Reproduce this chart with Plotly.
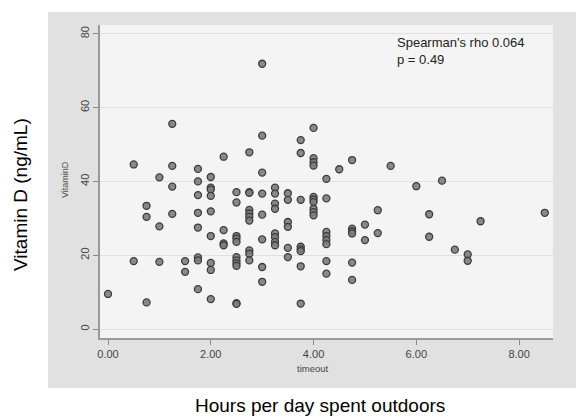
import plotly.graph_objects as go

# Hours per day outdoors (x) and vitamin D (y), read column by column
hours = (
    [0.0]
    + [0.5] * 2
    + [0.75] * 3
    + [1.0] * 3
    + [1.25] * 4
    + [1.5] * 2
    + [1.75] * 8
    + [2.0] * 9
    + [2.25] * 4
    + [2.5] * 11
    + [2.75] * 10
    + [3.0] * 8
    + [3.25] * 8
    + [3.5] * 6
    + [3.75] * 8
    + [4.0] * 10
    + [4.25] * 8
    + [4.5] * 1
    + [4.75] * 6
    + [5.0] * 2
    + [5.25] * 2
    + [5.5] * 1
    + [6.0] * 1
    + [6.25] * 2
    + [6.5] * 1
    + [6.75] * 1
    + [7.0] * 2
    + [7.25] * 1
    + [8.5] * 1
)
vitamin_d = [
    9.5,
    44.6, 18.4,
    33.4, 30.4, 7.2,
    41.1, 27.8, 18.2,
    55.6, 44.2, 38.6, 31.2,
    18.4, 15.5,
    43.4, 40.0, 36.3, 31.5, 27.5, 19.4, 18.6, 10.8,
    41.2, 38.3, 37.8, 36.1, 31.9, 25.2, 17.9, 16.0, 8.1,
    46.7, 26.8, 23.2, 22.7,
    37.1, 34.3, 25.2, 24.5, 23.6, 19.5, 18.6, 17.8, 17.1, 7.0, 6.8,
    47.9, 37.1, 36.9, 32.3, 31.3, 30.4, 29.4, 21.3, 20.4, 18.6,
    71.9, 52.4, 42.4, 36.7, 31.0, 24.3, 16.8, 12.8,
    38.3, 36.7, 34.0, 32.6, 25.9, 24.9, 23.6, 22.7,
    36.8, 35.0, 29.0, 27.7, 22.0, 19.5,
    51.2, 47.7, 35.0, 22.3, 21.6, 21.1, 17.0, 6.9,
    54.5, 46.3, 45.2, 44.3, 35.8, 35.1, 34.4, 32.6, 31.7, 30.8,
    40.7, 35.4, 26.3, 25.2, 24.1, 23.0, 18.4, 15.0,
    43.3,
    45.8, 27.2, 26.5, 25.9, 18.0, 13.3,
    28.3, 24.1,
    32.2, 26.0,
    44.2,
    38.7,
    31.1, 25.0,
    40.2,
    21.5,
    20.2, 18.5,
    29.2,
    31.5,
]

x_ticks = [0, 2, 4, 6, 8]
x_tick_labels = ["0.00", "2.00", "4.00", "6.00", "8.00"]
y_ticks = [0, 20, 40, 60, 80]
y_tick_labels = ["0", "20", "40", "60", "80"]

W, H = 576, 420
fig = go.Figure()
fig.add_trace(go.Scatter(
    x=hours, y=vitamin_d, mode="markers",
    marker=dict(size=7, color="rgba(125,125,125,0.9)",
                line=dict(color="#3c3c3c", width=1.3)),
    showlegend=False, hoverinfo="x+y",
))

# gray graph-region panel and light plot region
fig.add_shape(type="rect", xref="paper", yref="paper",
              x0=48 / W, x1=1.0, y0=1 - 388 / H, y1=1 - 12 / H,
              fillcolor="#e1e1e1", line=dict(width=0), layer="below")
fig.add_shape(type="rect", xref="paper", yref="paper",
              x0=100 / W, x1=553 / W, y0=1 - 338 / H, y1=1 - 25 / H,
              fillcolor="#f4f4f4", line=dict(width=0), layer="below")

fig.update_layout(
    width=W, height=H,
    margin=dict(l=0, r=0, t=0, b=0, autoexpand=False),
    paper_bgcolor="white",
    plot_bgcolor="rgba(0,0,0,0)",
    font=dict(family="Liberation Sans, Arial, sans-serif", color="#444"),
    xaxis=dict(
        domain=[100 / W, 553 / W],
        range=[-0.156, 8.66],
        automargin=False,
        tickvals=x_ticks, ticktext=x_tick_labels,
        ticks="outside", ticklen=5, tickcolor="#888",
        showgrid=False, zeroline=False,
        showline=True, linecolor="#999", linewidth=1.5,
        tickfont=dict(size=11, color="#444"),
    ),
    yaxis=dict(
        domain=[1 - 338 / H, 1 - 25 / H],
        range=[-2.44, 82.4],
        automargin=False,
        tickvals=y_ticks, ticktext=y_tick_labels,
        ticks="outside", ticklen=5, tickcolor="#888",
        tickangle=-90,
        showgrid=True, gridcolor="#e0e0e0", gridwidth=1.2,
        zeroline=False,
        showline=True, linecolor="#999", linewidth=1.5,
        tickfont=dict(size=11, color="#444"),
    ),
    annotations=[
        dict(text="Spearman's rho 0.064<br>p = 0.49", xref="paper", yref="paper",
             x=395 / W, y=1 - 33 / H, xanchor="left", yanchor="top",
             align="left", showarrow=False,
             font=dict(size=13, color="#222")),
        dict(text="VitaminD", xref="paper", yref="paper",
             x=65 / W, y=1 - 180 / H, xanchor="center", yanchor="middle",
             textangle=-90, showarrow=False,
             font=dict(size=9, color="#555")),
        dict(text="timeout", xref="paper", yref="paper",
             x=313 / W, y=1 - 368 / H, xanchor="center", yanchor="middle",
             showarrow=False,
             font=dict(size=9.5, color="#444")),
        dict(text="Vitamin D (ng/mL)", xref="paper", yref="paper",
             x=20 / W, y=1 - 195 / H, xanchor="center", yanchor="middle",
             textangle=-90, showarrow=False,
             font=dict(size=19, color="#000")),
        dict(text="Hours per day spent outdoors", xref="paper", yref="paper",
             x=320 / W, y=1 - 405 / H, xanchor="center", yanchor="middle",
             showarrow=False,
             font=dict(size=19, color="#000")),
    ],
)

fig.write_html("out.html",
               config={"displayModeBar": False},
               post_script="document.body.style.margin='0';document.body.style.overflow='hidden';")
